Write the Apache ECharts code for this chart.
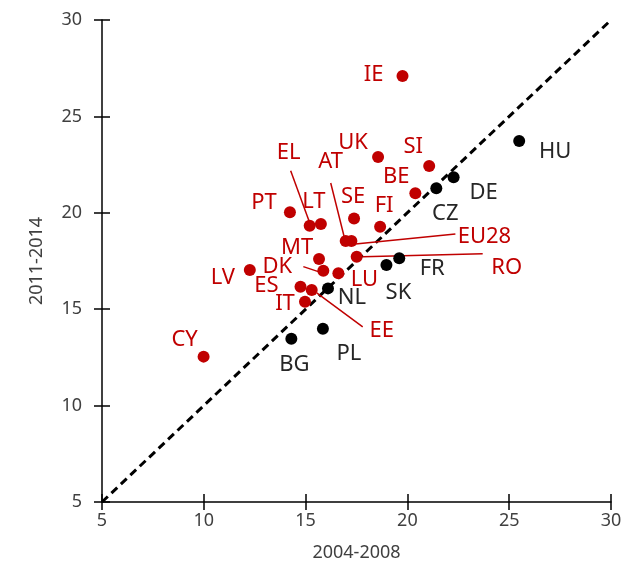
<!DOCTYPE html>
<html>
<head>
<meta charset="utf-8">
<script src="https://cdn.jsdelivr.net/npm/echarts@6/dist/echarts.min.js"></script>
<style>html,body{margin:0;padding:0;background:#fff}#c{width:625px;height:577px}</style>
</head>
<body>
<div id="c"></div>
<script>
// ---- data ----
const countries = ['IE','UK','SI','BE','CZ','DE','HU','PT','EL','LT','SE','FI','AT','EU28','MT','RO','FR','SK','DK','LU','LV','ES','EE','NL','IT','PL','BG','CY'];
const period2004_2008 = [19.76,18.56,21.07,20.39,21.42,22.27,25.49,14.23,15.2,15.75,17.38,18.66,16.97,17.25,15.66,17.51,19.6,18.97,15.87,16.61,12.26,14.75,15.3,16.1,14.97,15.85,14.3,9.99];
const period2011_2014 = [27.1,22.9,22.43,21.01,21.27,21.84,23.72,20.03,19.33,19.42,19.71,19.28,18.54,18.54,17.6,17.72,17.64,17.29,17.0,16.86,17.03,16.17,16.0,16.08,15.39,13.99,13.47,12.54];
const blackGroup = ['CZ','DE','HU','FR','SK','NL','PL','BG'];
const axisTicks = [5,10,15,20,25,30];
const diagonal = [5,30];

// ---- layout (pixel offsets of labels/leader lines from their point) ----
const labelOffsets = {
  IE:[-29,-1], UK:[-25,-14], SI:[-16,-19], BE:[-19,-17], DE:[30,15], HU:[36,11], CZ:[9,25],
  EL:[-21,-73], AT:[-15,-79], PT:[-26,-9], LT:[-7,-22], SE:[-1,-22], FI:[4,-21], EU28:[133,-4],
  MT:[-22,-11], RO:[150,11], FR:[33,10], LV:[-27,8], DK:[-46,-4], ES:[-34,-1], LU:[26,6],
  SK:[12,28], NL:[24,9], IT:[-20,2], EE:[70,41], CY:[-19,-17], PL:[26,25], BG:[3,26]
};
const leaderLines = {
  EL:[[0,-3],[-19,-55]], AT:[[-1,-2],[-15,-58]], EU28:[[4,3],[104,-7]],
  RO:[[6,0],[126,-3]], DK:[[-20,-4],[-5,1]], EE:[[5,3],[51,37]]
};

const RED = '#C00000', BLACK = '#000000';
const FONT = 'Noto Sans';

const chart = echarts.init(document.getElementById('c'));

const pts = countries.map((c,i)=>{
  const black = blackGroup.includes(c);
  return {
    name: c,
    value: [period2004_2008[i], period2011_2014[i]],
    itemStyle: {color: black ? BLACK : RED, opacity: 1},
    label: {
      show: true, position: 'inside', formatter: c,
      offset: labelOffsets[c],
      color: black ? '#262626' : '#C00000',
      fontSize: 22, fontFamily: FONT
    }
  };
});

const axisCommon = {
  type: 'value', min: 5, max: 30, interval: 5,
  splitLine: {show: false},
  axisLine: {show: true, lineStyle: {color: '#000', width: 1.5}},
  axisTick: {show: true, length: 8, lineStyle: {color: '#000', width: 1.5}},
  axisLabel: {color: '#404040', fontSize: 18, fontFamily: FONT,
    formatter: v => axisTicks.includes(v) ? String(v) : ''},
  nameTextStyle: {color: '#404040', fontSize: 18, fontFamily: FONT},
  nameLocation: 'middle'
};
const innerTicks = {
  type: 'value', min: 5, max: 30, interval: 5,
  splitLine: {show: false}, axisLine: {show: false}, axisLabel: {show: false},
  axisTick: {show: true, inside: true, length: 8, lineStyle: {color: '#000', width: 1.5}}
};

chart.setOption({
  animation: false,
  grid: {left: 102, right: 14, top: 20, bottom: 75},
  xAxis: [
    Object.assign({}, axisCommon, {position: 'bottom', name: '2004-2008', nameGap: 42,
      axisLabel: Object.assign({}, axisCommon.axisLabel, {margin: 10})}),
    Object.assign({}, innerTicks, {position: 'bottom'})
  ],
  yAxis: [
    Object.assign({}, axisCommon, {position: 'left', name: '2011-2014', nameGap: 56,
      axisLabel: Object.assign({}, axisCommon.axisLabel, {margin: 20})}),
    Object.assign({}, innerTicks, {position: 'left'})
  ],
  series: [
    {
      type: 'line', data: diagonal.map(v=>[v,v]), symbol: 'none', silent: true,
      lineStyle: {color: '#000', width: 3, type: [8,5]}, z: 1
    },
    {
      type: 'scatter', data: pts, symbolSize: 12, z: 3
    }
  ]
});

// leader lines
const g = [];
countries.forEach((c,i)=>{
  if (!leaderLines[c]) return;
  const p = chart.convertToPixel({xAxisIndex:0, yAxisIndex:0}, [period2004_2008[i], period2011_2014[i]]);
  const [a,b] = leaderLines[c];
  g.push({type:'line', z: 2, silent: true,
    shape:{x1:p[0]+a[0], y1:p[1]+a[1], x2:p[0]+b[0], y2:p[1]+b[1]},
    style:{stroke:'#C00000', lineWidth:1.5}});
});
chart.setOption({graphic: g});
</script>
</body>
</html>
